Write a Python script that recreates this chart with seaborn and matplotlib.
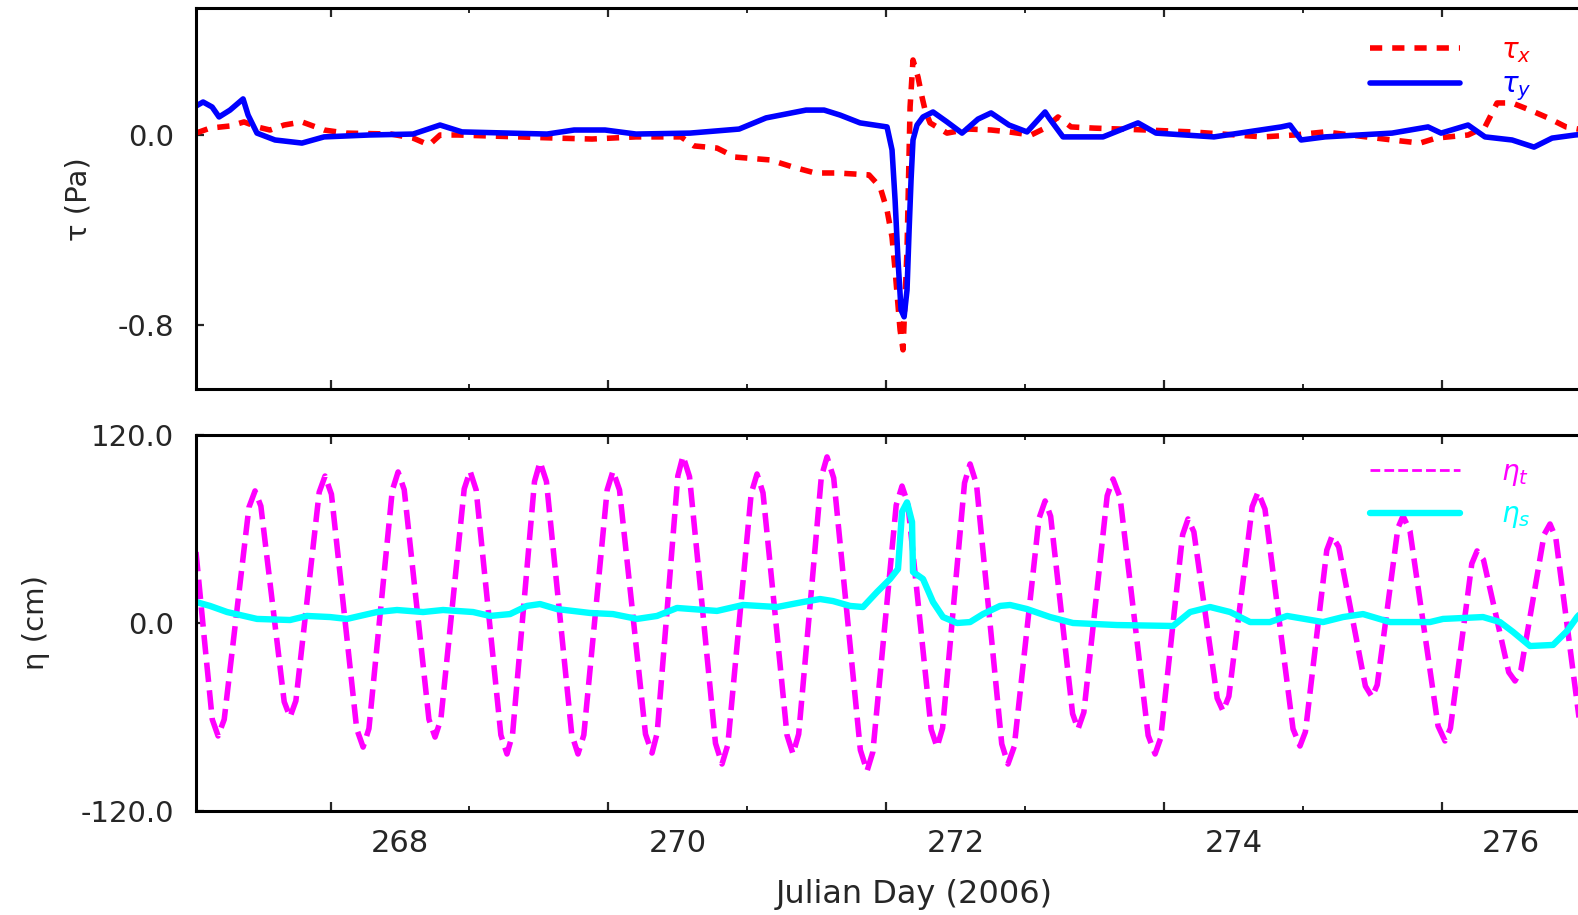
"""
Wind stress and sea level during the storm, Julian days 266-276.
Top: wind stress components; bottom: tidal and surge sea level.
"""
import numpy as np
import pandas as pd
import matplotlib
matplotlib.use("Agg")
import matplotlib.pyplot as plt
import seaborn as sns

# ---- data ----
tau_x_day = [266.531, 266.632, 266.776, 266.877, 266.970, 267.064, 267.165, 267.294, 267.453,
             267.611, 267.935, 268.094, 268.209, 268.288, 268.418, 269.123, 269.382, 269.699,
             270.023, 270.117, 270.282, 270.412, 270.664, 270.829, 270.988, 271.146, 271.376,
             271.456, 271.506, 271.542, 271.564, 271.600, 271.621, 271.650, 271.672, 271.693,
             271.729, 271.758, 271.780, 271.816, 271.938, 272.096, 272.255, 272.384, 272.543,
             272.644, 272.737, 272.831, 272.996, 273.378, 273.702, 274.213, 274.436, 274.659,
             275.142, 275.343, 275.459, 275.689, 275.811, 275.898, 276.006, 276.135, 276.265,
             276.395, 276.600]
tau_x = [0.008, 0.029, 0.038, 0.055, 0.034, 0.021, 0.042, 0.055, 0.021,
         0.008, 0.004, -0.013, -0.042, 0.0, 0.0, -0.013, -0.017, -0.008,
         -0.008, -0.046, -0.055, -0.093, -0.105, -0.135, -0.160, -0.160, -0.168,
         -0.219, -0.316, -0.430, -0.569, -0.821, -0.905, -0.484, 0.118, 0.316,
         0.244, 0.160, 0.105, 0.051, 0.008, 0.025, 0.021, 0.013, 0.0,
         0.029, 0.076, 0.034, 0.029, 0.021, 0.013, -0.008, 0.0, 0.013,
         -0.021, -0.034, -0.013, 0.0, 0.034, 0.135, 0.135, 0.105, 0.072,
         0.034, 0.013]

tau_y_day = [266.531, 266.582, 266.647, 266.697, 266.776, 266.870, 266.906, 266.970, 267.100,
             267.294, 267.453, 267.777, 268.094, 268.288, 268.446, 269.058, 269.253, 269.476,
             269.699, 270.088, 270.441, 270.635, 270.923, 271.053, 271.168, 271.312, 271.506,
             271.542, 271.564, 271.585, 271.607, 271.629, 271.650, 271.665, 271.679, 271.693,
             271.722, 271.765, 271.837, 271.938, 272.046, 272.161, 272.255, 272.384, 272.514,
             272.644, 272.672, 272.773, 273.061, 273.313, 273.443, 273.860, 274.343, 274.407,
             274.487, 274.659, 275.142, 275.401, 275.495, 275.689, 275.811, 276.006, 276.164,
             276.294, 276.459, 276.600]
tau_y = [0.122, 0.139, 0.118, 0.076, 0.105, 0.152, 0.084, 0.008, -0.021,
         -0.034, -0.008, 0.0, 0.004, 0.042, 0.013, 0.004, 0.021, 0.021,
         0.004, 0.008, 0.025, 0.072, 0.105, 0.105, 0.084, 0.051, 0.034,
         -0.063, -0.274, -0.526, -0.737, -0.766, -0.653, -0.400, -0.189, -0.021,
         0.042, 0.076, 0.097, 0.055, 0.008, 0.067, 0.093, 0.042, 0.013,
         0.097, 0.072, -0.008, -0.008, 0.051, 0.008, -0.008, 0.034, 0.042,
         -0.021, -0.008, 0.008, 0.034, 0.008, 0.042, -0.008, -0.021, -0.051,
         -0.013, 0.0, 0.008]

# tide: one row per half cycle (extremum, then three points towards the next one)
eta_t_day = [266.531, 266.596, 266.648,
             266.690, 266.734, 266.823, 266.912,
             266.956, 266.998, 267.082, 267.166,
             267.208, 267.250, 267.334, 267.418,
             267.460, 267.506, 267.597, 267.688,
             267.734, 267.776, 267.860, 267.944,
             267.986, 268.030, 268.119, 268.208,
             268.252, 268.294, 268.378, 268.462,
             268.504, 268.548, 268.637, 268.726,
             268.770, 268.810, 268.889, 268.968,
             269.008, 269.054, 269.145, 269.236,
             269.281, 269.323, 269.407, 269.491,
             269.533, 269.580, 269.674, 269.767,
             269.814, 269.851, 269.926, 270.000,
             270.037, 270.084, 270.178, 270.271,
             270.318, 270.360, 270.444, 270.528,
             270.570, 270.613, 270.700, 270.786,
             270.829, 270.870, 270.952, 271.033,
             271.074, 271.122, 271.218, 271.314,
             271.362, 271.404, 271.488, 271.572,
             271.614, 271.656, 271.740, 271.824,
             271.866, 271.906, 271.985, 272.064,
             272.104, 272.150, 272.241, 272.332,
             272.377, 272.422, 272.511, 272.600,
             272.644, 272.684, 272.763, 272.842,
             272.881, 272.923, 273.007, 273.091,
             273.133, 273.184, 273.285, 273.386,
             273.436, 273.476, 273.555, 273.634,
             273.673, 273.715, 273.799, 273.883,
             273.925, 273.967, 274.051, 274.135,
             274.177, 274.227, 274.328, 274.429,
             274.479, 274.518, 274.595, 274.672,
             274.710, 274.758, 274.854, 274.950,
             274.998, 275.035, 275.110, 275.184,
             275.221, 275.271, 275.372, 275.473,
             275.523, 275.562, 275.639, 275.716,
             275.754, 275.800, 275.891, 275.982,
             276.027, 276.069, 276.153, 276.237,
             276.279, 276.321, 276.405, 276.489,
             276.530]
eta_t = [45.3, -14.7, -61.5,
         -72.1, -61.6, 6.1, 73.8,
         84.3, 74.6, 12.2, -50.3,
         -60.0, -49.7, 16.9, 83.5,
         93.8, 82.2, 7.3, -67.6,
         -79.2, -67.4, 8.6, 84.6,
         96.4, 85.1, 11.8, -61.5,
         -72.8, -61.4, 12.1, 85.6,
         97.0, 84.9, 6.7, -71.5,
         -83.6, -71.1, 9.6, 90.3,
         102.8, 90.3, 9.6, -71.1,
         -83.6, -71.5, 6.7, 84.9,
         97.0, 84.9, 7.0, -70.9,
         -83.0, -70.3, 11.8, 93.9,
         106.6, 93.4, 8.3, -76.8,
         -90.0, -77.6, 2.6, 82.7,
         95.1, 83.1, 5.8, -71.6,
         -83.6, -70.9, 11.2, 93.3,
         106.0, 92.6, 5.8, -81.1,
         -94.5, -82.3, -3.6, 75.2,
         87.4, 76.2, 4.1, -68.0,
         -79.2, -67.1, 11.2, 89.4,
         101.5, 88.7, 5.8, -77.2,
         -90.0, -78.8, -6.1, 66.7,
         77.9, 68.1, 5.1, -57.9,
         -67.7, -57.0, 12.1, 81.2,
         91.9, 80.1, 4.2, -71.8,
         -83.6, -73.5, -8.6, 56.3,
         66.4, 58.2, 5.1, -48.0,
         -56.2, -46.8, 13.7, 74.2,
         83.6, 72.7, 2.6, -67.6,
         -78.5, -69.5, -11.5, 46.5,
         55.5, 48.6, 4.2, -40.3,
         -47.2, -39.5, 10.6, 60.6,
         68.3, 58.7, -3.5, -65.7,
         -75.3, -67.2, -14.7, 37.9,
         46.0, 40.4, 4.5, -31.4,
         -37.0, -30.3, 13.1, 56.5,
         63.2, 54.3, -3.4, -61.1,
         -70.0]

eta_s_day = [266.531, 266.632, 266.755, 266.970, 267.208, 267.330, 267.496, 267.618, 267.834,
             267.978, 268.166, 268.310, 268.526, 268.648, 268.792, 268.914, 269.008, 269.130,
             269.368, 269.533, 269.706, 269.850, 269.994, 270.282, 270.469, 270.714, 270.901,
             271.024, 271.117, 271.240, 271.333, 271.434, 271.528, 271.585, 271.614, 271.650,
             271.686, 271.693, 271.765, 271.837, 271.909, 272.010, 272.104, 272.197, 272.320,
             272.392, 272.514, 272.680, 272.845, 273.162, 273.565, 273.688, 273.832, 273.976,
             274.120, 274.263, 274.386, 274.645, 274.789, 274.933, 275.127, 275.415, 275.509,
             275.797, 275.919, 276.013, 276.135, 276.301, 276.402, 276.474, 276.560]
eta_s = [13.4, 10.9, 7.0, 2.6, 1.9, 4.5, 3.8, 2.6, 7.0,
         8.3, 7.0, 8.3, 7.0, 4.5, 5.7, 10.9, 12.1, 8.9,
         6.4, 5.7, 2.6, 4.5, 9.6, 7.7, 11.5, 10.2, 13.4,
         15.3, 14.0, 10.9, 10.2, 19.8, 28.1, 34.5, 70.9, 77.0,
         64.5, 32.6, 28.1, 13.4, 3.8, 0.0, 0.6, 5.7, 10.9,
         11.5, 8.9, 3.8, 0.0, -1.3, -1.9, 7.0, 10.2, 7.0,
         0.6, 0.6, 4.5, 0.6, 3.8, 5.7, 0.6, 0.6, 2.6,
         3.8, 0.6, -5.7, -14.7, -14.0, -5.1, 3.8, 12.0]

label_days = [268, 270, 272, 274, 276]
long_tick_days = [267.5, 269.5, 271.5, 273.5, 275.5]
short_tick_days = [268.5, 270.5, 272.5, 274.5, 276.5]

W, H = 1578, 915
XLIM = (266.531, 276.603)
LW = 4.0

sns.set_style("white")
plt.rcParams.update({"font.family": ["DejaVu Sans"], "font.size": 20,
                     "axes.linewidth": 2.2, "axes.edgecolor": "black",
                     "mathtext.fontset": "dejavusans"})


def style_axes(ax, yticks, ylabels, ylim):
    ax.set_xlim(*XLIM)
    ax.set_ylim(*ylim)
    ax.set_xticks(long_tick_days)
    ax.set_xticks(short_tick_days, minor=True)
    ax.tick_params(axis="x", which="major", direction="in", length=6.5, width=1.6,
                   top=True, bottom=True, labelbottom=False)
    ax.tick_params(axis="x", which="minor", direction="in", length=3.6, width=1.4,
                   top=True, bottom=True)
    ax.set_yticks(yticks, labels=ylabels)
    ax.tick_params(axis="y", which="major", direction="in", length=5.8, width=1.6,
                   left=True, right=True, pad=16, labelsize=21)
    ax.set_xlabel(""); ax.set_ylabel("")
    for s in ax.spines.values():
        s.set_visible(True)


def add_legend(ax, anchor, widths, spacing):
    leg = ax.legend(loc="upper left", bbox_to_anchor=anchor, borderaxespad=0,
                    borderpad=0, frameon=False, fontsize=20, handlelength=3.25,
                    handletextpad=1.45, labelspacing=spacing)
    for txt, h, w in zip(leg.get_texts(), leg.legend_handles, widths):
        txt.set_color(h.get_color())
        h.set_linewidth(w)
    return leg


fig = plt.figure(figsize=(W / 100, H / 100), dpi=100)
ax_top = fig.add_axes([196 / W, 1 - 389 / H, (1595 - 196) / W, (389 - 8) / H])
ax_bot = fig.add_axes([196 / W, 1 - 811 / H, (1595 - 196) / W, (811 - 435) / H])

# top panel: wind stress
df_tx = pd.DataFrame({"day": tau_x_day, "tau": tau_x})
df_ty = pd.DataFrame({"day": tau_y_day, "tau": tau_y})
sns.lineplot(data=df_tx, x="day", y="tau", ax=ax_top, color="#ff0000", lw=LW,
             estimator=None, sort=False, label=r"$\tau_x$")
ax_top.lines[-1].set_dashes((2.2, 1.8))
sns.lineplot(data=df_ty, x="day", y="tau", ax=ax_top, color="#0000ff", lw=LW,
             estimator=None, sort=False, label=r"$\tau_y$")
style_axes(ax_top, [0.0, -0.8], ["0.0", "-0.8"], (-1.070, 0.535))
add_legend(ax_top, ((1370 - 196) / 1399, (389 - 36) / 381), [LW, LW], 0.2)

# bottom panel: sea level
df_et = pd.DataFrame({"day": eta_t_day, "eta": eta_t})
df_es = pd.DataFrame({"day": eta_s_day, "eta": eta_s})
sns.lineplot(data=df_et, x="day", y="eta", ax=ax_bot, color="#ff00ff", lw=LW,
             estimator=None, sort=False, label=r"$\eta_t$")
ax_bot.lines[-1].set_dashes((3.5, 1.5))
sns.lineplot(data=df_es, x="day", y="eta", ax=ax_bot, color="#00ffff", lw=4.6,
             estimator=None, sort=False, label=r"$\eta_s$")
style_axes(ax_bot, [120, 0, -120], ["120.0", "0.0", "-120.0"], (-120, 120))
add_legend(ax_bot, ((1370 - 196) / 1399, (811 - 458) / 376), [2.0, 4.6], 0.45)

# day labels sit between the tick marks, as in the original
sec = ax_bot.secondary_xaxis("bottom")
sec.set_xticks(label_days, labels=[str(d) for d in label_days])
sec.tick_params(length=0, pad=13, labelsize=22)
sec.spines["bottom"].set_visible(False)

fig.text(914 / W, 1 - 895 / H, "Julian Day (2006)", ha="center", va="center", fontsize=23)
fig.text(78 / W, 1 - 199 / H, "τ (Pa)", rotation=90, ha="center", va="center", fontsize=21)
fig.text(36 / W, 1 - 623 / H, "η (cm)", rotation=90, ha="center", va="center", fontsize=21)

fig.savefig("out.png", dpi=100)
plt.close(fig)
